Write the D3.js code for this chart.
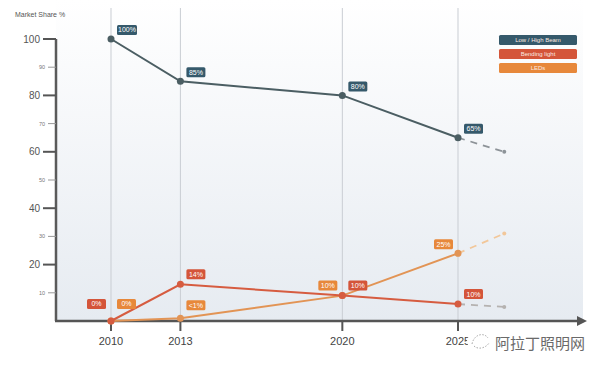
<!DOCTYPE html>
<html>
<head>
<meta charset="utf-8">
<script src="https://cdn.jsdelivr.net/npm/d3@7"></script>
<style>
  body { margin: 0; background: #fff; }
  svg { display: block; font-family: "Liberation Sans", "DejaVu Sans", sans-serif; }
</style>
</head>
<body>
<div id="chart"></div>
<script>
// data
const years = [2010, 2013, 2020, 2025];
const projYear = 2027;
const lowHigh = [100, 85, 80, 65];
const bending = [0, 13, 9, 6];
const led = [0, 1, 9, 24];
const projLowHigh = 60;
const projBending = 5;
const projLed = 31;
const lowHighLabels = ['100%', '85%', '80%', '65%'];
const bendingLabels = ['0%', '14%', '10%', '10%'];
const ledLabels = ['0%', '<1%', '10%', '25%'];
const seriesNames = ['Low / High Beam', 'Bending light', 'LEDs'];
const majorTicks = [20, 40, 60, 80, 100];
const minorTicks = [10, 30, 50, 70, 90];

const width = 600, height = 368;

const svg = d3.select('#chart').append('svg')
	.attr('width', width)
	.attr('height', height);

const x = d3.scaleLinear().domain([2010, 2025]).range([111, 458]);
const y = d3.scaleLinear().domain([0, 100]).range([321, 39]);

const plotLeft = 56, plotRight = 583, plotTop = 0, plotBottom = y(0);

// background gradient
const defs = svg.append('defs');
const grad = defs.append('linearGradient').attr('id', 'bg').attr('x1', 0).attr('y1', 0).attr('x2', 0).attr('y2', 1);
grad.append('stop').attr('offset', '0%').attr('stop-color', '#ffffff');
grad.append('stop').attr('offset', '100%').attr('stop-color', '#e6ebf1');
defs.append('marker').attr('id', 'arrow').attr('viewBox', '0 0 10 10')
	.attr('refX', 2).attr('refY', 5).attr('markerWidth', 4).attr('markerHeight', 4)
	.attr('orient', 'auto')
	.append('path').attr('d', 'M0,0 L10,5 L0,10 z').attr('fill', '#555');

svg.append('rect')
	.attr('x', plotLeft).attr('y', plotTop)
	.attr('width', plotRight - plotLeft).attr('height', plotBottom - plotTop)
	.attr('fill', 'url(#bg)');

// vertical grid lines at the years
svg.append('g').selectAll('line').data(years).enter().append('line')
	.attr('x1', (d) => x(d)).attr('x2', (d) => x(d))
	.attr('y1', 8).attr('y2', plotBottom)
	.attr('stroke', '#c9cdd3').attr('stroke-width', 1);

// y axis
svg.append('line')
	.attr('x1', plotLeft).attr('x2', plotLeft)
	.attr('y1', y(100)).attr('y2', plotBottom)
	.attr('stroke', '#5a5a5a').attr('stroke-width', 2.5);

const majG = svg.append('g').selectAll('g').data(majorTicks).enter().append('g');
majG.append('line')
	.attr('x1', 43).attr('x2', plotLeft).attr('y1', (d) => y(d)).attr('y2', (d) => y(d))
	.attr('stroke', '#555').attr('stroke-width', 2);
majG.append('text')
	.attr('x', 40).attr('y', (d) => y(d)).attr('dy', '0.35em')
	.attr('text-anchor', 'end').attr('font-size', 10).attr('fill', '#555')
	.text((d) => d);

const minG = svg.append('g').selectAll('g').data(minorTicks).enter().append('g');
minG.append('line')
	.attr('x1', 48).attr('x2', plotLeft).attr('y1', (d) => y(d)).attr('y2', (d) => y(d))
	.attr('stroke', '#999').attr('stroke-width', 1);
minG.append('text')
	.attr('x', 45).attr('y', (d) => y(d)).attr('dy', '0.35em')
	.attr('text-anchor', 'end').attr('font-size', 5.5).attr('fill', '#777')
	.text((d) => d);

svg.append('text')
	.attr('x', 15).attr('y', 17)
	.attr('font-size', 7).attr('fill', '#555')
	.text('Market Share %');

// x axis with arrow
svg.append('line')
	.attr('x1', plotLeft - 1).attr('x2', plotRight - 4)
	.attr('y1', plotBottom).attr('y2', plotBottom)
	.attr('stroke', '#555').attr('stroke-width', 2.5)
	.attr('marker-end', 'url(#arrow)');

const xt = svg.append('g').selectAll('g').data(years).enter().append('g');
xt.append('line')
	.attr('x1', (d) => x(d)).attr('x2', (d) => x(d))
	.attr('y1', plotBottom).attr('y2', plotBottom + 10)
	.attr('stroke', '#555').attr('stroke-width', 2);
xt.append('text')
	.attr('x', (d) => x(d)).attr('y', 345)
	.attr('text-anchor', 'middle').attr('font-size', 11).attr('fill', '#444')
	.text((d) => d);

// series
const series = [
	{ name: seriesNames[0], values: lowHigh, proj: projLowHigh, labels: lowHighLabels,
	  line: '#4b5e63', dash: '#8d9398', box: '#35596b',
	  side: ['r', 'r', 'r', 'r'], dy: [-14, -14, -14, -14] },
	{ name: seriesNames[1], values: bending, proj: projBending, labels: bendingLabels,
	  line: '#d65c40', dash: '#b5b2b0', box: '#d4553a',
	  side: ['l', 'r', 'r', 'r'], dy: [-22, -15, -15, -15] },
	{ name: seriesNames[2], values: led, proj: projLed, labels: ledLabels,
	  line: '#e29455', dash: '#f2c79a', box: '#e7883b',
	  side: ['r', 'r', 'l', 'l'], dy: [-22, -18, -15, -14] },
];

const line = d3.line().x((d) => x(d.year)).y((d) => y(d.value));

// draw LED first so the red & slate lines sit on top
[2, 1, 0].forEach((i) => {
	const s = series[i];
	const pts = years.map((yr, j) => ({ year: yr, value: s.values[j] }));
	const last = pts[pts.length - 1];
	const proj = [last, { year: projYear, value: s.proj }];

	svg.append('path').datum(proj)
		.attr('d', line).attr('fill', 'none')
		.attr('stroke', s.dash).attr('stroke-width', 1.8)
		.attr('stroke-dasharray', '7,6');
	svg.append('circle')
		.attr('cx', x(projYear)).attr('cy', y(s.proj)).attr('r', 2)
		.attr('fill', s.dash);

	svg.append('path').datum(pts)
		.attr('d', line).attr('fill', 'none')
		.attr('stroke', s.line).attr('stroke-width', 2);

	svg.append('g').selectAll('circle').data(pts).enter().append('circle')
		.attr('cx', (d) => x(d.year)).attr('cy', (d) => y(d.value)).attr('r', 3.5)
		.attr('fill', s.line);
});

// value labels
series.forEach((s) => {
	years.forEach((yr, j) => {
		const px = x(yr), py = y(s.values[j]);
		const w = s.labels[j].length > 3 ? 20 : 19, h = 10;
		const bx = s.side[j] === 'r' ? px + 6 : px - 5 - w;
		const by = py + s.dy[j];
		svg.append('rect')
			.attr('x', bx).attr('y', by).attr('width', w).attr('height', h)
			.attr('rx', 1.5).attr('fill', s.box);
		svg.append('text')
			.attr('x', bx + w / 2).attr('y', by + h / 2).attr('dy', '0.35em')
			.attr('text-anchor', 'middle').attr('font-size', 7).attr('fill', '#fff')
			.text(s.labels[j]);
	});
});

// legend
const lg = svg.append('g').selectAll('g').data(series).enter().append('g')
	.attr('transform', (d, i) => `translate(499,${35 + i * 14})`);
lg.append('rect')
	.attr('width', 78).attr('height', 10).attr('rx', 1.5)
	.attr('fill', (d) => d.box);
lg.append('text')
	.attr('x', 39).attr('y', 5).attr('dy', '0.35em')
	.attr('text-anchor', 'middle').attr('font-size', 6).attr('fill', '#fbe9e0')
	.text((d) => d.name);

// watermark
svg.append('ellipse')
	.attr('cx', 479).attr('cy', 341).attr('rx', 12).attr('ry', 9)
	.attr('fill', '#fff');
svg.append('path')
	.attr('d', 'M472,344 C474,334 484,332 488,338 M474,346 C478,350 486,348 489,343')
	.attr('fill', 'none').attr('stroke', '#aaa').attr('stroke-width', 1)
	.attr('stroke-dasharray', '1.5,1.5');
svg.append('text')
	.attr('x', 495).attr('y', 349)
	.attr('font-size', 15).attr('fill', '#6a6a6a')
	.attr('font-family', '"Noto Sans CJK SC", sans-serif')
	.text('阿拉丁照明网');
</script>
</body>
</html>
